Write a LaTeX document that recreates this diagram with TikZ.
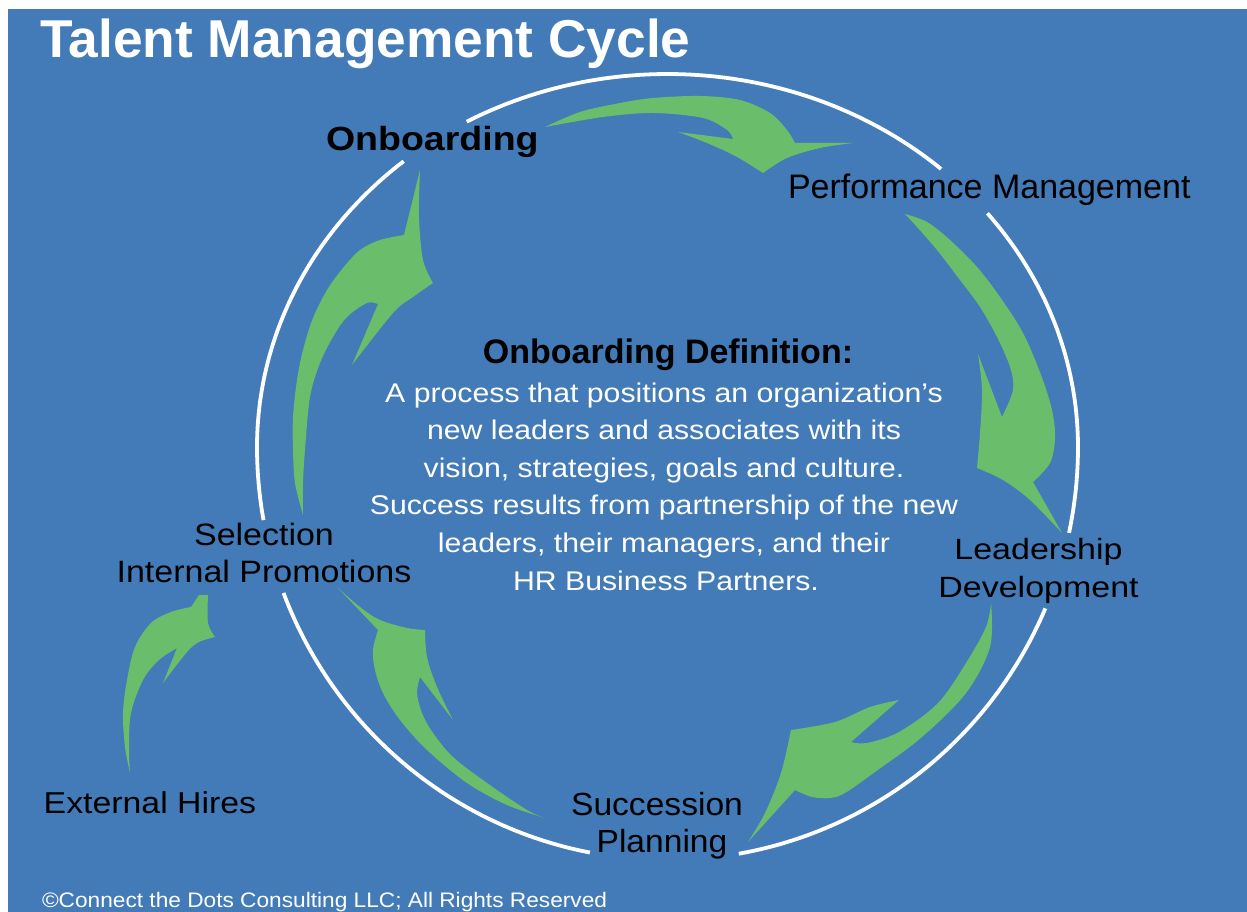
\documentclass[tikz,border=0pt]{standalone}
\usepackage{fontspec}
\setmainfont{Liberation Sans}
% slightly widened faces for the labels
\newfontfamily\wideA{Liberation Sans}[FakeStretch=1.12]
\newfontfamily\wideB{Liberation Sans}[FakeStretch=1.16]
\newfontfamily\wideC{Liberation Sans}[FakeStretch=1.05]
\newfontfamily\wideD{Liberation Sans}[FakeStretch=1.10]
\newfontfamily\wideE{Liberation Sans}[FakeStretch=1.08]
\definecolor{bgblue}{RGB}{66,123,183}
\definecolor{leaf}{RGB}{106,190,107}

\begin{document}
\begin{tikzpicture}[x=1pt,y=-1pt,
  lbl/.style={inner sep=0pt, outer sep=0pt, text=black, anchor=base},
  lblw/.style={lbl, anchor=base west},
  deftext/.style={lbl, text=white, font=\wideA\fontsize{27}{27}\selectfont},
  ring/.style={draw=white, line width=3.8pt},
  leafarrow/.style={fill=leaf},
  curve/.style={smooth, tension=0.55}]

\useasboundingbox (0,0) rectangle (1247,912);
\fill[bgblue] (8,9) rectangle (1247,912);

% ---- white cycle ring: an oval, a little deeper below its middle line,
% broken where the stage labels sit
\def\ringx#1{667.5+410.5*cos(#1)}
\def\ringy#1{447-((sin(#1)>0)?373:413)*sin(#1)}
\draw[ring] plot[domain=119.3:48.2, samples=60, variable=\t] ({\ringx{\t}}, {\ringy{\t}});
\draw[ring] plot[domain=38.8:-12, samples=60, variable=\t] ({\ringx{\t}}, {\ringy{\t}});
\draw[ring] plot[domain=-23:-80, samples=60, variable=\t] ({\ringx{\t}}, {\ringy{\t}});
\draw[ring] plot[domain=-100.9:-159.3, samples=60, variable=\t] ({\ringx{\t}}, {\ringy{\t}});
\draw[ring] plot[domain=190.2:130, samples=60, variable=\t] ({\ringx{\t}}, {\ringy{\t}});

% ---- green curved arrows
% Onboarding -> Performance Management
\fill[leafarrow] plot[curve] coordinates {(545,127) (580,112) (620,103) (653,98) (700,96) (740,100) (770,113) (787,130) (795,143)}
  -- (853,143)
  -- plot[curve] coordinates {(853,143) (820,148) (787,158) (763,173)}
  -- plot[curve] coordinates {(763,173) (737,157) (707,143) (678,132)}
  -- (733,139)
  -- plot[curve] coordinates {(733,139) (727,130) (703,118) (653,113) (603,117) (545,127)}
  -- cycle;
% Performance Management -> Leadership Development
\fill[leafarrow] plot[curve] coordinates {(905,214) (927,222) (950,240) (977,267) (1000,297) (1023,333) (1041,375) (1052,410) (1055,438) (1050,463) (1033,482)}
  -- (1062,533)
  -- plot[curve] coordinates {(1062,533) (1030,500) (1003,480) (977,468)}
  -- plot[curve] coordinates {(977,468) (980,433) (982,390) (978,354)}
  -- (1002,417)
  -- plot[curve] coordinates {(1002,417) (1013,390) (1010,367) (997,337) (980,307) (960,280) (937,250) (917,227) (905,214)}
  -- cycle;
% Leadership Development -> Succession Planning
\fill[leafarrow] plot[curve] coordinates {(991,603) (990,647) (966,693) (922,737) (875,772) (845,793) (830,798) (812,797) (795,790)}
  -- (748,842)
  -- plot[curve] coordinates {(748,842) (765,813) (781,773) (791,730)}
  -- plot[curve] coordinates {(791,730) (835,722) (870,707) (899,700)}
  -- (851,742)
  -- plot[curve] coordinates {(851,742) (867,743) (899,732) (938,703) (966,663) (986,627) (991,603)}
  -- cycle;
% Succession Planning -> Selection
\fill[leafarrow] plot[curve] coordinates {(545,818) (507,805) (467,783) (427,750) (400,720) (383,693) (375,670) (373,650) (378,630)}
  -- (338,588)
  -- plot[curve] coordinates {(338,588) (360,607) (380,620) (407,628) (425,630)}
  -- plot[curve] coordinates {(425,630) (427,657) (437,687) (453,720)}
  -- (420,677)
  -- plot[curve] coordinates {(420,677) (417,693) (422,713) (433,733) (453,757) (487,783) (527,810) (545,818)}
  -- cycle;
% Selection -> Onboarding
\fill[leafarrow] plot[curve] coordinates {(303,515) (295,483) (293,450) (293,417) (297,380) (303,350) (313,318) (327,290) (343,268) (360,250) (380,240) (404,235)}
  -- (420,170)
  -- plot[curve] coordinates {(420,170) (419,217) (423,260) (433,283)}
  -- plot[curve] coordinates {(433,283) (413,297) (393,313) (352,365)}
  -- (378,304)
  -- plot[curve] coordinates {(378,304) (367,303) (347,317) (333,337) (320,363) (310,397) (305,450) (303,483) (303,515)}
  -- cycle;
% External Hires -> Selection
\fill[leafarrow] plot[curve] coordinates {(130,773) (125,747) (123,713) (127,680) (135,647) (151,623) (171,612) (191,607)}
  -- (199,595) -- (208,595)
  -- plot[curve] coordinates {(208,595) (208,623) (215,637)}
  -- plot[curve] coordinates {(215,637) (199,642) (187,652) (163,683)}
  -- (177,648)
  -- plot[curve] coordinates {(177,648) (159,660) (143,680) (131,713) (129,747) (130,773)}
  -- cycle;

% ---- texts
\node[lblw, text=white, font=\bfseries\fontsize{53.3}{53.3}\selectfont] (title) at (40,58) {Talent Management Cycle};
\node[lblw, font=\wideA\bfseries\fontsize{33.5}{33.5}\selectfont] (onb) at (326,151) {Onboarding};
\node[lblw, font=\fontsize{34}{34}\selectfont] (perf) at (788,199) {Performance Management};
\node[lbl, font=\wideB\fontsize{29.3}{29.3}\selectfont] (lead1) at (1038.5,559) {Leadership};
\node[lbl, font=\wideB\fontsize{29.3}{29.3}\selectfont] (lead2) at (1038.5,597) {Development};
\node[lbl, font=\wideC\fontsize{32}{32}\selectfont] (succ1) at (657,815) {Succession};
\node[lbl, font=\wideC\fontsize{32}{32}\selectfont] (succ2) at (662,852) {Planning};
\node[lbl, font=\wideD\fontsize{30.9}{30.9}\selectfont] (sel1) at (264,545) {Selection};
\node[lbl, font=\wideD\fontsize{30.9}{30.9}\selectfont] (sel2) at (264,582) {Internal Promotions};
\node[lblw, font=\wideA\fontsize{30.2}{30.2}\selectfont] (ext) at (43.7,813) {External Hires};

\node[lbl, font=\bfseries\fontsize{34}{34}\selectfont] (deftitle) at (668,363) {Onboarding Definition:};
\node[deftext] (def1) at (664,402) {A process that positions an organization’s};
\node[deftext] (def2) at (664,439.6) {new leaders and associates with its};
\node[deftext] (def3) at (664,477.2) {vision, strategies, goals and culture.};
\node[deftext] (def4) at (664,514.8) {Success results from partnership of the new};
\node[deftext] (def5) at (664,552.4) {leaders, their managers, and their};
\node[deftext] (def6) at (666,590) {HR Business Partners.};

\node[lblw, text=white, font=\wideE\fontsize{21}{21}\selectfont] (copy) at (42,907) {©Connect the Dots Consulting LLC; All Rights Reserved};
\end{tikzpicture}
\end{document}
